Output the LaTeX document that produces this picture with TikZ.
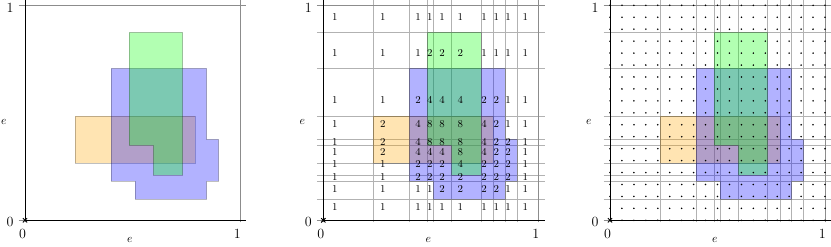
\documentclass[tikz,border=0pt]{standalone}

\definecolor{regorange}{RGB}{255,165,0}
\definecolor{regblue}{RGB}{0,0,255}
\definecolor{reggreen}{RGB}{0,255,0}

% cut positions shared by all three panels
\def\cxa{0.233}\def\cxb{0.400}\def\cxc{0.484}\def\cxd{0.512}\def\cxe{0.597}
\def\cxf{0.733}\def\cxg{0.791}\def\cxh{0.845}\def\cxi{0.900}
\def\cya{0.874}\def\cyb{0.707}\def\cyc{0.485}\def\cyd{0.377}\def\cye{0.349}
\def\cyf{0.265}\def\cyg{0.211}\def\cyh{0.183}\def\cyi{0.098}

\begin{document}
\begin{tikzpicture}[
  x=6.45cm, y=6.45cm,
  axis/.style={black, line width=0.6pt},
  unitline/.style={black!45, line width=0.8pt},
  cutline/.style={black!30, line width=0.4pt},
  region/.style={draw=black, draw opacity=0.25, fill opacity=0.3, line width=0.4pt},
  tick/.style={font=\large, inner sep=0pt},
  count/.style={font=\small, inner sep=0pt}
]

\useasboundingbox (-0.1163,-0.1195) rectangle (3.7488,1.0247);

% =========================
% Cut lines (middle and right panels)
% =========================
\foreach \dx in {1.3874, 2.7209} {
  \begin{scope}[shift={(\dx,0)}]
    \foreach \cx in {\cxa,\cxb,\cxc,\cxd,\cxe,\cxf,\cxg,\cxh,\cxi}
      \draw[cutline] (\cx,-0.01) -- (\cx,1.03);
    \foreach \cy in {\cya,\cyb,\cyc,\cyd,\cye,\cyf,\cyg,\cyh,\cyi}
      \draw[cutline] (-0.03,\cy) -- (1.03,\cy);
  \end{scope}
}

% =========================
% Regions, axes and ticks (all panels)
% =========================
\foreach \p/\dx in {1/0, 2/1.3874, 3/2.7209} {
  \begin{scope}[shift={(\dx,0)}]
    \draw[unitline] (-0.03,1) -- (1.03,1);
    \draw[unitline] (1,-0.01) -- (1,1.03);
    \draw[unitline] (-0.03,0) -- (0,0) (0,-0.01) -- (0,0);

    \draw[region, fill=regorange] (\cxa,\cyf) rectangle (\cxg,\cyc);
    \draw[region, fill=regblue] (\cxb,\cyb) -- (\cxh,\cyb) -- (\cxh,\cyd)
      -- (\cxi,\cyd) -- (\cxi,\cyh) -- (\cxh,\cyh) -- (\cxh,\cyi)
      -- (\cxd,\cyi) -- (\cxd,\cyh) -- (\cxb,\cyh) -- cycle;
    \draw[region, fill=reggreen] (\cxc,\cya) -- (\cxf,\cya) -- (\cxf,\cyg)
      -- (\cxe,\cyg) -- (\cxe,\cye) -- (\cxc,\cye) -- cycle;

    \draw[axis] (0,0) -- (1.03,0);
    \draw[axis] (0,0) -- (0,1.03);
    \draw[axis, line width=0.8pt] (-0.01,-0.01) -- (0.01,0.01) (-0.01,0.01) -- (0.01,-0.01);

    \node[tick] (xzero\p) at (-0.011,-0.065) {0};
    \node[tick] (xone\p)  at (0.988,-0.065) {1};
    \node[tick] (yzero\p) at (-0.07,-0.007) {0};
    \node[tick] (yone\p)  at (-0.07,0.99) {1};
    \node (xlab\p) at (0.488,-0.092) {$e$};
    \node (ylab\p) at (-0.098,0.457) {$e$};
  \end{scope}
}

% =========================
% Counts (middle panel)
% =========================
\def\colx{{0.054,0.277,0.441,0.495,0.552,0.637,0.748,0.805,0.86,0.94}}
\begin{scope}[shift={(1.3874,0)}]
  \foreach \cy/\row [count=\r] in {
      0.947/{1,1,1,1,1,1,1,1,1,1},
      0.777/{1,1,1,2,2,2,1,1,1,1},
      0.559/{1,1,2,4,4,4,2,2,1,1},
      0.446/{1,2,4,8,8,8,4,2,1,1},
      0.364/{1,2,4,8,8,8,4,2,2,1},
      0.318/{1,2,4,4,4,8,4,2,2,1},
      0.262/{1,1,2,2,2,4,2,2,2,1},
      0.202/{1,1,2,2,2,2,2,2,2,1},
      0.144/{1,1,1,1,2,2,2,2,1,1},
      0.060/{1,1,1,1,1,1,1,1,1,1}} {
    \foreach \val [count=\c] in \row {
      \pgfmathsetmacro\cx{\colx[\c-1]}
      \node[count] (n-\r-\c) at (\cx,\cy) {\val};
    }
  }
\end{scope}

% =========================
% Sample points (right panel)
% =========================
\begin{scope}[shift={(2.7209,0)}]
  \foreach \i in {0,...,18}
    \foreach \j in {0,...,18}
      \fill (\i/18,\j/18) circle[radius=0.75pt];
\end{scope}

\end{tikzpicture}
\end{document}
